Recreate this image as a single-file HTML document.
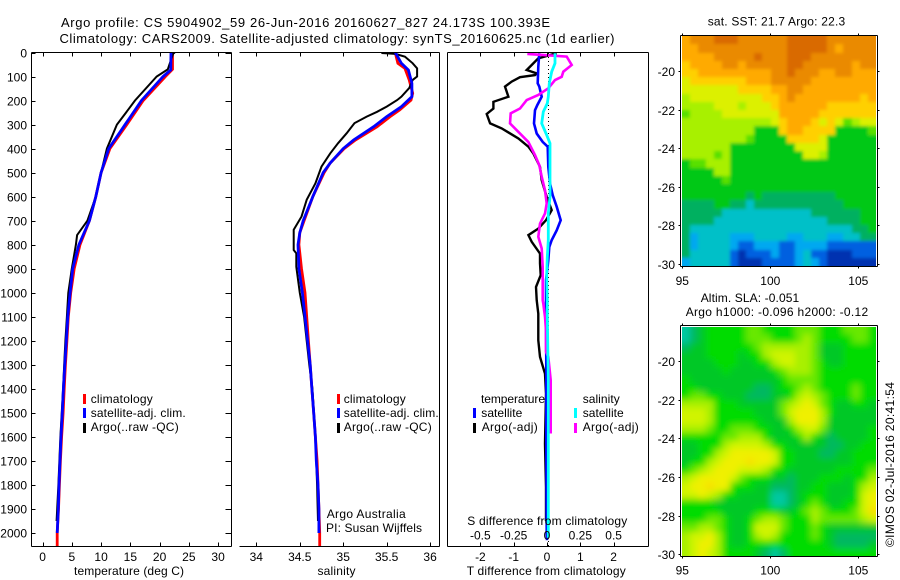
<!DOCTYPE html>
<html lang="en">
<head>
<meta charset="utf-8">
<title>Argo profile chart</title>
<style>
html,body{margin:0;padding:0;background:#fff;}
svg{display:block;}
text{font-family:"Liberation Sans",sans-serif;font-size:12px;fill:#000;}
text.main-title{font-size:13px;}
</style>
</head>
<body>
<svg id="chart" xmlns="http://www.w3.org/2000/svg" width="900" height="580" viewBox="0 0 900 580">
<defs>
<filter id="sst-smooth" x="-5%" y="-5%" width="110%" height="110%"><feGaussianBlur stdDeviation="1.6"/></filter>
<filter id="sla-smooth" x="-5%" y="-5%" width="110%" height="110%"><feGaussianBlur stdDeviation="3.5"/></filter>
<clipPath id="sst-clip"><rect x="682" y="36" width="194" height="230"/></clipPath>
<clipPath id="sla-clip"><rect x="682" y="327" width="194" height="229"/></clipPath>
</defs>
<rect x="0" y="0" width="900" height="580" fill="#fff"/>
<text class="main-title" x="61" y="27" textLength="489">Argo profile: CS 5904902_59 26-Jun-2016 20160627_827 24.173S 100.393E</text>
<text class="main-title" x="59.5" y="43" textLength="555">Climatology: CARS2009. Satellite-adjusted climatology: synTS_20160625.nc (1d earlier)</text>
<g id="maps"></g>
<g id="marks"></g>
<g id="axes"></g>

<text x="74" y="575" textLength="110">temperature (deg C)</text>
<text x="317.5" y="575" textLength="38">salinity</text>
<text x="466.7" y="575" textLength="159">T difference from climatology</text>
<text x="467.3" y="525" textLength="160">S difference from climatology</text>

<g>
<rect x="83" y="394" width="3" height="10" fill="#f00"/>
<text x="90.7" y="403" textLength="62">climatology</text>
<rect x="83" y="408" width="3" height="10" fill="#00f"/>
<text x="90.7" y="417" textLength="95">satellite-adj. clim.</text>
<rect x="83" y="423" width="3" height="10" fill="#000"/>
<text x="90.7" y="431" textLength="88">Argo(..raw -QC)</text>
</g>
<g>
<rect x="337" y="394" width="3" height="10" fill="#f00"/>
<text x="343.7" y="403" textLength="62">climatology</text>
<rect x="337" y="408" width="3" height="10" fill="#00f"/>
<text x="343.7" y="417" textLength="95">satellite-adj. clim.</text>
<rect x="337" y="423" width="3" height="10" fill="#000"/>
<text x="343.7" y="431" textLength="88">Argo(..raw -QC)</text>
</g>
<text x="326.7" y="518" textLength="79">Argo Australia</text>
<text x="326" y="532" textLength="96">PI: Susan Wijffels</text>

<g>
<text x="481" y="403" textLength="64">temperature</text>
<rect x="473" y="408" width="3" height="10" fill="#00f"/>
<text x="481.3" y="417" textLength="41">satellite</text>
<rect x="473" y="423" width="3" height="10" fill="#000"/>
<text x="481.7" y="431" textLength="56">Argo(-adj)</text>
<text x="582.7" y="403" textLength="37">salinity</text>
<rect x="574" y="408" width="3" height="10" fill="#0ff"/>
<text x="582.7" y="417" textLength="41">satellite</text>
<rect x="574" y="423" width="3" height="10" fill="#f0f"/>
<text x="582.7" y="431" textLength="56">Argo(-adj)</text>
</g>

<text x="707.7" y="25.5" textLength="137.5">sat. SST: 21.7 Argo: 22.3</text>
<text x="700.7" y="302" textLength="98.5">Altim. SLA: -0.051</text>
<text x="685.7" y="316" textLength="182.5">Argo h1000: -0.096 h2000: -0.12</text>
<text transform="translate(894,547) rotate(-90)" x="0" y="0" textLength="165">©IMOS 02-Jul-2016 20:41:54</text>
</svg>

<script>
// ---------- tick arrays ----------
const depthTicks = [0,100,200,300,400,500,600,700,800,900,1000,1100,1200,1300,1400,1500,1600,1700,1800,1900,2000];
const tempTicks = [0,5,10,15,20,25,30];
const salTicks = [34,34.5,35,35.5,36];
const salTickLabels = ["34","34.5","35","35.5","36"];
const tDiffTicks = [-2,-1,0,1,2];
const sDiffTicks = [-0.5,-0.25,0,0.25,0.5];
const sDiffLabels = ["-0.5","-0.25","0","0.25","0.5"];
const lonTicks = [95,100,105];
const latTicks = [-20,-22,-24,-26,-28,-30];

// ---------- temperature profiles ----------
const tempClimDepth = [0,70,100,200,300,400,500,600,700,800,900,1000,1100,1200,1300,1400,1500,1600,1700,1800,1900,2000,2055];
const tempClimValue = [22.2,22.2,21,17.2,14.4,11.5,10,9.1,8,6.4,5.4,4.8,4.4,4.15,3.9,3.7,3.5,3.25,3.05,2.88,2.72,2.5,2.5];
const tempSatDepth = [0,73,100,200,300,400,500,600,700,800,900,1000,1100,1200,1300,1400,1500,1600,1700,1800,1900,2000];
const tempSatValue = [21.95,21.9,20.6,16.9,14.1,11.3,10,9.1,8,6.2,5.15,4.7,4.3,4.05,3.8,3.55,3.37,3.15,2.97,2.8,2.69,2.5];
const tempArgoDepth = [0,5,70,100,200,250,300,400,500,600,700,760,800,900,1000,1100,1200,1300,1400,1600,1800,1950];
const tempArgoValue = [22.6,22.3,21.4,19.5,15.8,14.25,12.7,11,10,9.1,7.65,5.9,5.7,5,4.4,4.15,3.9,3.7,3.5,3.05,2.7,2.4];

// ---------- salinity profiles ----------
const salClimDepth = [0,17,45,66,114,170,198,239,267,309,364,400,460,500,600,700,750,800,900,1000,1100,1200,1300,1400,1500,1600,1700,1800,1900,2000,2055];
const salClimValue = [35.6,35.61,35.63,35.71,35.76,35.8,35.78,35.65,35.54,35.39,35.14,35.01,34.85,34.78,34.65,34.55,34.5,34.49,34.52,34.56,34.58,34.6,34.62,34.64,34.66,34.68,34.7,34.71,34.72,34.73,34.73];
const salSatDepth = [0,45,73,128,184,225,267,309,364,400,460,500,600,700,750,800,900,1000,1100,1200,1300,1400,1500,1600,1700,1800,1900,2000];
const salSatValue = [35.6,35.67,35.75,35.79,35.79,35.67,35.5,35.35,35.12,35,34.85,34.77,34.65,34.54,34.5,34.48,34.49,34.53,34.56,34.59,34.62,34.64,34.66,34.68,34.69,34.71,34.72,34.72];
const salArgoDepth = [2,6,17,45,66,100,114,148,184,198,225,247,267,294,336,378,420,475,545,613,683,738,822,836,892,1000,1100,1200,1300,1400,1600,1800,1950];
const salArgoValue = [35.44,35.6,35.71,35.8,35.85,35.85,35.8,35.76,35.67,35.62,35.5,35.39,35.27,35.13,35.04,34.94,34.85,34.75,34.68,34.58,34.52,34.43,34.43,34.46,34.46,34.5,34.55,34.58,34.61,34.645,34.68,34.7,34.71];

// ---------- difference profiles ----------
const tDiffSatDepth = [3,59,128,142,184,219,240,295,337,372,392,476,545,594,642,698,740,781,809,865,948,1031,1100,1300,1600,2000,2030];
const tDiffSatValue = [-0.23,-0.26,-0.28,-0.23,-0.16,-0.29,-0.36,-0.39,-0.31,-0.13,0.02,0.04,0.09,0.17,0.29,0.41,0.29,0.14,0.07,0.04,-0.03,-0.03,-0.03,-0.02,-0.02,-0.01,0];
const tDiffArgoDepth = [3,24,52,73,87,94,103,121,142,184,205,233,256,295,316,358,392,420,476,531,601,656,698,733,760,788,837,878,927,976,1031,1087,1198,1267,1337,1420,1628,1809,1906,1950];
const tDiffArgoValue = [0.29,-0.26,-0.46,-0.61,-0.31,-0.36,-0.81,-1.06,-1.26,-1.16,-1.61,-1.61,-1.81,-1.71,-1.36,-0.86,-0.56,-0.41,-0.21,-0.16,-0.01,0.14,-0.03,-0.26,-0.56,-0.46,-0.21,-0.21,-0.19,-0.33,-0.31,-0.26,-0.26,-0.21,-0.06,-0.03,-0.06,-0.03,-0.03,-0.03];
const sDiffArgoDepth = [6,17,52,80,101,115,149,177,198,233,253,295,330,372,427,469,517,573,628,670,712,767,816,892,1031,1045,1100,1156,1246,1267,1364,1586];
const sDiffArgoValue = [-0.1475,0.1475,0.185,0.1225,0.11,0.06,0.01,-0.065,-0.1525,-0.2025,-0.2725,-0.2775,-0.215,-0.14,-0.09,-0.0575,-0.04,-0.015,-0.0025,-0.015,-0.0525,-0.065,-0.04,-0.0325,-0.0325,-0.0275,-0.015,-0.0075,-0.0075,0.01,0.0275,0.0275];
const sDiffSatDepth = [3,45,80,128,184,212,247,295,344,378,531,601,670,781,851,920,1031,1087,1364,2003,2020];
const sDiffSatValue = [0.06,0.06,0.035,0.0175,0.01,0.0025,-0.0275,-0.04,-0.0025,0.0225,0.0225,0.0225,0.01,0.01,0.0025,-0.0025,0.0025,0.0025,0.01,0.01,0.01];

// ---------- map level grids ----------
const sstColors = ["#0030b0","#0060e0","#00a8f0","#00c0c8","#00b060","#00c818","#58e000","#a8f000","#dcf000","#ffd000","#ffaa00","#ea8a00","#d96a00"];
const sstGrid = [
[10,11,11,11,12,12,12,11,11,11,11,11,11,12,12,12,12,12,11,11,11,11,11,11],
[10,10,11,11,11,11,11,11,11,11,11,11,11,12,12,12,12,12,11,10,11,11,11,11],
[10,10,10,10,11,11,11,11,11,12,11,11,11,12,12,12,11,11,11,11,11,11,11,11],
[9,10,10,10,10,11,11,10,11,11,11,11,11,12,12,11,11,11,11,11,11,10,11,11],
[9,9,10,10,10,10,10,10,10,10,10,11,11,12,11,11,11,10,10,11,11,10,10,10],
[8,9,9,9,9,9,9,9,10,10,10,11,11,11,11,11,10,10,10,10,10,10,10,10],
[8,8,8,8,8,8,8,9,9,9,9,10,10,11,11,10,10,10,10,10,10,10,10,10],
[7,8,8,8,8,8,8,8,8,8,9,9,10,11,10,10,10,10,10,10,10,10,9,10],
[7,7,7,7,8,8,8,7,8,8,8,9,10,10,10,10,10,10,9,9,9,9,9,9],
[6,7,7,7,7,8,8,8,8,8,8,8,10,10,10,10,10,9,9,9,9,9,9,9],
[7,7,7,7,7,7,7,7,7,7,7,8,9,10,10,10,9,8,9,8,6,7,8,8],
[7,7,7,7,7,7,7,7,7,5,5,5,9,10,10,9,9,9,9,5,5,5,5,6],
[7,7,7,7,7,7,7,7,6,5,5,5,5,9,9,9,9,8,5,5,5,5,5,5],
[7,7,7,7,7,7,5,5,5,5,5,5,5,5,8,8,8,8,5,5,5,5,5,5],
[7,7,7,7,6,7,5,5,5,5,5,5,5,5,5,8,8,7,5,5,5,5,5,5],
[5,6,6,7,7,7,5,5,5,5,5,5,5,5,5,5,5,5,5,5,5,5,5,5],
[5,5,5,5,7,7,5,5,5,5,5,5,5,5,5,5,5,5,5,5,5,5,5,5],
[5,5,5,5,5,6,5,5,5,5,5,5,5,5,5,5,5,5,5,5,5,5,5,5],
[5,5,5,5,5,5,5,5,5,5,5,5,5,5,5,5,5,5,5,5,5,5,5,5],
[5,5,5,5,5,5,5,5,4,5,4,4,4,4,4,4,4,4,4,5,5,5,5,5],
[4,4,4,4,5,5,4,4,3,4,4,4,4,4,4,4,4,4,4,4,5,5,5,5],
[4,4,4,4,4,3,3,3,3,3,3,3,3,3,3,3,4,4,4,4,4,4,5,5],
[4,4,4,4,3,3,3,3,3,3,3,3,3,3,3,3,3,3,4,4,4,4,5,5],
[4,3,3,3,3,3,3,3,3,3,3,3,3,3,3,3,3,3,3,3,3,4,4,5],
[4,2,3,3,3,3,2,2,2,3,3,3,3,2,2,3,3,3,2,2,3,3,4,4],
[4,2,3,3,3,3,2,1,1,2,2,2,1,1,2,2,2,2,1,1,1,1,1,1],
[4,3,3,3,3,3,1,0,1,1,1,2,1,1,2,3,1,1,0,0,0,1,1,1],
[2,3,3,3,3,3,1,0,0,0,1,1,1,1,2,3,2,1,0,0,0,0,0,0]
];
const slaColors = ["#00c8a0","#00b860","#00c828","#00dc00","#68e800","#a8f000","#d0f400","#f0f000","#f8e000"];
const slaGrid = [
[0,1,2,3,3,3,3,3,4,4,3,3,3,3,4,4,4,3,3,3,4,4,4,3],
[0,1,2,3,3,3,3,3,4,4,4,3,3,3,4,5,4,3,3,3,3,4,4,3],
[1,2,2,3,3,3,3,3,3,4,5,5,5,5,5,5,4,2,2,2,3,3,3,3],
[2,2,2,3,3,3,3,2,3,3,5,6,6,6,5,5,4,2,2,2,3,3,3,3],
[2,2,2,2,3,3,3,2,2,3,3,5,6,6,5,5,4,3,2,2,3,3,3,3],
[2,2,2,2,2,3,2,2,2,2,2,3,4,5,5,5,4,3,3,3,3,3,3,3],
[3,2,2,2,2,2,2,2,2,2,2,2,3,4,4,4,4,3,3,3,3,3,3,3],
[3,3,2,2,2,2,2,2,2,1,1,2,3,3,4,5,4,3,3,3,3,4,3,3],
[3,4,4,3,3,2,2,2,1,1,1,2,2,3,5,6,5,4,3,3,3,4,3,3],
[5,5,5,5,3,3,3,2,2,2,2,2,4,5,6,7,6,4,3,2,2,3,3,2],
[6,6,6,5,3,3,3,3,3,2,2,2,4,6,7,7,7,5,3,2,2,2,2,2],
[6,6,6,5,3,3,3,3,3,3,2,2,2,5,7,7,7,5,2,2,2,2,2,2],
[5,5,5,4,3,3,4,4,4,3,3,2,2,3,5,6,6,4,2,2,2,2,2,3],
[3,3,3,3,3,4,4,5,5,5,3,2,2,2,3,5,3,2,1,2,2,2,2,3],
[2,2,3,3,3,5,6,6,6,6,5,3,3,2,2,2,2,2,1,1,2,2,3,3],
[2,2,3,3,5,6,7,7,7,7,7,6,3,3,2,2,2,1,1,2,2,3,3,3],
[2,3,3,5,6,7,7,7,8,7,7,6,3,3,2,2,2,2,2,2,2,3,3,3],
[3,4,5,6,7,7,7,6,6,6,5,3,3,2,2,2,2,2,2,3,3,3,3,4],
[5,6,7,7,7,7,6,4,3,3,3,2,2,1,2,2,2,3,3,3,2,3,3,5],
[6,7,7,8,7,7,3,3,3,2,2,1,1,1,2,2,3,3,2,2,2,3,5,6],
[6,6,7,6,5,3,3,2,2,2,2,0,0,1,2,3,3,3,2,2,2,3,6,7],
[3,3,3,3,2,2,2,2,2,2,2,0,0,1,2,3,4,3,2,2,3,3,6,7],
[3,3,3,3,3,2,2,2,2,3,3,3,2,2,3,4,5,4,3,3,3,4,6,8],
[3,3,3,4,4,3,2,2,3,4,5,5,4,3,3,3,5,4,4,4,4,4,5,6],
[4,4,5,5,4,3,2,2,3,6,6,6,4,3,3,3,4,3,2,2,2,2,2,2],
[5,6,6,7,5,3,2,2,3,5,6,5,3,3,3,3,4,3,2,1,1,1,1,1],
[5,6,7,7,5,3,2,2,3,3,3,3,3,3,3,3,3,3,2,1,1,1,1,2],
[5,6,7,6,5,3,3,3,3,2,1,0,1,3,3,3,3,3,3,3,3,3,3,3]
];

// ---------- scales ----------
const NS = "http://www.w3.org/2000/svg";
const depthY = d => 52.5 + 0.24025 * d;
const tempX = t => 42.6 + 5.85 * t;
const salX = s => 256.3 + 86.9 * (s - 34);
const tDiffX = t => 547 + 33.3 * t;
const sDiffX = s => 547 + 133.3 * s;
const lonX = l => 682.3 + 17.6 * (l - 95);
const sstLatY = l => 71 + 19.3 * (-20 - l);
const slaLatY = l => 361 + 19.33 * (-20 - l);
const marks = document.getElementById("marks");
const axes = document.getElementById("axes");
const maps = document.getElementById("maps");

function make(tag, attrs, parent) {
  const el = document.createElementNS(NS, tag);
  for (const k in attrs) el.setAttribute(k, attrs[k]);
  parent.appendChild(el);
  return el;
}
function drawLine(name, x1, y1, x2, y2) {
  const el = make("line", {x1, y1, x2, y2, stroke: "#000", "stroke-width": 1, "shape-rendering": "crispEdges"}, axes);
  
  
  return el;
}
function drawLabel(name, x, y, anchor, str) {
  const el = make("text", {x, y, "text-anchor": anchor}, axes);
  
  
  el.textContent = str;
  return el;
}
function drawProfile(name, xs, ds, scaleX, color, width) {
  const pts = ds.map((d, i) => scaleX(xs[i]).toFixed(1) + "," + depthY(d).toFixed(1)).join(" ");
  const el = make("polyline", {points: pts, fill: "none", stroke: color, "stroke-width": width, "stroke-linejoin": "miter", "clip-path": "url(#plot-clip)"}, marks);
  
  
  return el;
}
function drawHeatmap(name, grid, colors, latY, clipId, filterId) {
  const rows = grid.length, cols = grid[0].length;
  const lon0 = 94.95, lon1 = 106, lat0 = -18.2, lat1 = -30.1;
  const pad = 12;
  const outer = make("g", {"clip-path": "url(#" + clipId + ")"}, maps);
  
  
  const g = make("g", {filter: "url(#" + filterId + ")"}, outer);
  
  
  grid.forEach((row, r) => {
    let y0 = Math.round(latY(lat0 + (lat1 - lat0) * r / rows));
    let y1 = Math.round(latY(lat0 + (lat1 - lat0) * (r + 1) / rows));
    if (r === 0) y0 -= pad;
    if (r === rows - 1) y1 += pad;
    row.forEach((v, c) => {
      let x0 = Math.round(lonX(lon0 + (lon1 - lon0) * c / cols));
      let x1 = Math.round(lonX(lon0 + (lon1 - lon0) * (c + 1) / cols));
      if (c === 0) x0 -= pad;
      if (c === cols - 1) x1 += pad;
      const cell = make("rect", {x: x0, y: y0, width: x1 - x0, height: y1 - y0, fill: colors[v], "shape-rendering": "crispEdges"}, g);
      
      
    });
  });
}
function drawMapAxes(prefix, latY, top, bottom, labelY) {
  const L = 680.5, R = 877.5;
  drawLine(prefix + "-frame-top", L, top, R, top);
  drawLine(prefix + "-frame-bottom", L, bottom, R, bottom);
  drawLine(prefix + "-frame-left", L, top, L, bottom);
  drawLine(prefix + "-frame-right", R, top, R, bottom);
  lonTicks.forEach(l => {
    const x = Math.round(lonX(l)) + 0.5;
    drawLine(prefix + "-lon-tick", x, top - 2, x, top);
    drawLine(prefix + "-lon-tick", x, bottom, x, bottom + 2);
    drawLabel(prefix + "-lon-label", lonX(l), labelY, "middle", String(l));
  });
  latTicks.forEach(l => {
    const y = Math.round(latY(l)) + 0.5;
    drawLine(prefix + "-lat-tick", L - 2, y, L, y);
    drawLine(prefix + "-lat-tick", R, y, R + 2, y);
    drawLabel(prefix + "-lat-label", 675, y + 4.5, "end", String(l));
  });
}

// ---------- clip ----------
const defs = make("defs", {}, marks);
const clip = make("clipPath", {id: "plot-clip"}, defs);
make("rect", {x: 32, y: 52, width: 617, height: 494}, clip);

// ---------- maps ----------
drawHeatmap("sst-heatmap", sstGrid, sstColors, sstLatY, "sst-clip", "sst-smooth");
drawHeatmap("sla-heatmap", slaGrid, slaColors, slaLatY, "sla-clip", "sla-smooth");
drawMapAxes("sst-map", sstLatY, 35.5, 266.5, 285);
drawMapAxes("sla-map", slaLatY, 325.5, 556.5, 574.5);

// ---------- zero reference ----------
const zeroLine = make("line", {x1: 548.5, y1: 53, x2: 548.5, y2: 546, stroke: "#000", "stroke-width": 1, "stroke-dasharray": "1 3", "shape-rendering": "crispEdges"}, marks);



// ---------- profiles ----------
drawProfile("temperature-climatology-line", tempClimValue, tempClimDepth, tempX, "#f00", 2.8);
drawProfile("temperature-argo-line", tempArgoValue, tempArgoDepth, tempX, "#000", 2);
drawProfile("temperature-satellite-line", tempSatValue, tempSatDepth, tempX, "#00f", 2.8);
drawProfile("salinity-climatology-line", salClimValue, salClimDepth, salX, "#f00", 2.8);
drawProfile("salinity-argo-line", salArgoValue, salArgoDepth, salX, "#000", 2);
drawProfile("salinity-satellite-line", salSatValue, salSatDepth, salX, "#00f", 2.8);
drawProfile("t-difference-argo-line", tDiffArgoValue, tDiffArgoDepth, tDiffX, "#000", 2.4);
drawProfile("t-difference-satellite-line", tDiffSatValue, tDiffSatDepth, tDiffX, "#00f", 2.6);
drawProfile("s-difference-argo-line", sDiffArgoValue, sDiffArgoDepth, sDiffX, "#f0f", 2.6);
drawProfile("s-difference-satellite-line", sDiffSatValue, sDiffSatDepth, sDiffX, "#0ff", 2.8);

// ---------- profile axes ----------
const TOP = 52.5, BOT = 546.5;
drawLine("temperature-frame-top", 31.5, TOP, 231.5, TOP);
drawLine("temperature-frame-bottom", 31.5, BOT, 231.5, BOT);
drawLine("temperature-frame-left", 31.5, TOP, 31.5, BOT);
drawLine("temperature-frame-right", 231.5, TOP, 231.5, BOT);
depthTicks.forEach(d => {
  const y = Math.round(depthY(d)) + 0.5;
  drawLine("depth-tick", 31.5, y, 35.5, y);
  drawLine("depth-tick", 225.5, y, 231.5, y);
  drawLabel("depth-label", 27, y + 4, "end", String(d));
});
tempTicks.forEach(t => {
  const x = Math.round(tempX(t)) + 0.5;
  drawLine("temperature-tick", x, TOP, x, TOP + 4);
  drawLine("temperature-tick", x, BOT - 4, x, BOT);
  drawLabel("temperature-label", tempX(t), 561, "middle", String(t));
});
drawLine("salinity-frame-top", 239.5, TOP, 439.5, TOP);
drawLine("salinity-frame-bottom", 239.5, BOT, 439.5, BOT);
drawLine("salinity-frame-right", 439.5, TOP, 439.5, BOT);
salTicks.forEach((s, i) => {
  const x = Math.round(salX(s)) + 0.5;
  drawLine("salinity-tick", x, TOP, x, TOP + 4);
  drawLine("salinity-tick", x, BOT - 4, x, BOT);
  drawLabel("salinity-label", salX(s), 561, "middle", salTickLabels[i]);
});
drawLine("difference-frame-top", 447.5, TOP, 648.5, TOP);
drawLine("difference-frame-bottom", 447.5, BOT, 648.5, BOT);
drawLine("difference-frame-left", 447.5, TOP, 447.5, BOT);
drawLine("difference-frame-right", 648.5, TOP, 648.5, BOT);
tDiffTicks.forEach(t => {
  const x = Math.round(tDiffX(t)) + 0.5;
  drawLine("t-difference-tick", x, TOP, x, TOP + 4);
  drawLine("t-difference-tick", x, BOT - 4, x, BOT);
  drawLabel("t-difference-label", tDiffX(t), 561, "middle", String(t));
});
sDiffTicks.forEach((s, i) => {
  drawLabel("s-difference-label", sDiffX(s), 539.5, "middle", sDiffLabels[i]);
});
</script>
</body>
</html>
